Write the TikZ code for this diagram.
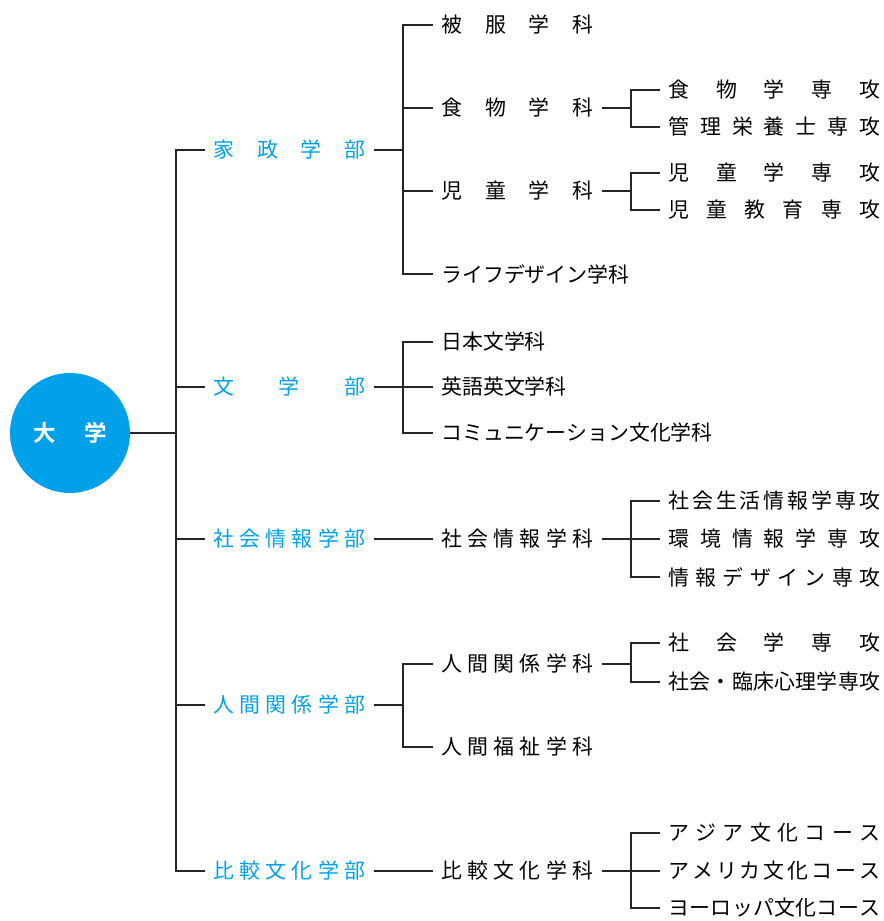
\documentclass[tikz,border=0pt]{standalone}
\usepackage{fontspec}
\setmainfont{Noto Sans CJK JP}[BoldFont={Noto Sans CJK JP Bold}]
\usepackage{xcolor}
\usepackage{tikz}
\usetikzlibrary{positioning,calc}
\definecolor{univblue}{RGB}{0,161,233}
\newcommand{\spread}[2]{\makebox[#1][s]{\spaceskip=0pt plus 1fil\relax #2}}

\begin{document}
\begin{tikzpicture}[x=0.02cm, y=-0.02cm,
    every node/.style={inner xsep=0.16cm, inner ysep=0pt, font=\fontsize{11.9}{14}\selectfont},
    univ/.style={circle, fill=univblue, minimum size=2.4cm, inner sep=0pt, text=white, font=\fontsize{12.8}{14}\selectfont\bfseries},
    fac/.style={anchor=west, text=univblue},
    dept/.style={anchor=west},
    major/.style={anchor=west},
    conn/.style={line width=0.6pt, black!85}]
    \useasboundingbox (0,0) rectangle (884,921);

    % University
    \node[univ] (univ) at (70,433) {\spread{1.48cm}{大 学}};

    % Faculties
    \node[fac] (kasei)   at (205,150) {\spread{3.04cm}{家 政 学 部}};
    \node[fac] (bungaku) at (205,387) {\spread{3.04cm}{文 学 部}};
    \node[fac] (shakai)  at (205,539) {\spread{3.04cm}{社 会 情 報 学 部}};
    \node[fac] (ningen)  at (205,705) {\spread{3.04cm}{人 間 関 係 学 部}};
    \node[fac] (hikaku)  at (205,871) {\spread{3.04cm}{比 較 文 化 学 部}};

    % Departments
    \node[dept] (hifuku)     at (433,25)  {\spread{3.04cm}{被 服 学 科}};
    \node[dept] (shokumotsu) at (433,108) {\spread{3.04cm}{食 物 学 科}};
    \node[dept] (jido)       at (433,191) {\spread{3.04cm}{児 童 学 科}};
    \node[dept] (life)       at (433,274) {ライフデザイン学科};
    \node[dept] (nihonbun)   at (433,342) {日本文学科};
    \node[dept] (eigo)       at (433,387) {英語英文学科};
    \node[dept] (comm)       at (433,433) {コミュニケーション文化学科};
    \node[dept] (shakaiD)    at (433,539) {\spread{3.04cm}{社 会 情 報 学 科}};
    \node[dept] (kankei)     at (433,664) {\spread{3.04cm}{人 間 関 係 学 科}};
    \node[dept] (fukushi)    at (433,747) {\spread{3.04cm}{人 間 福 祉 学 科}};
    \node[dept] (hikakuD)    at (433,871) {\spread{3.04cm}{比 較 文 化 学 科}};

    % Majors and courses
    \node[major] (shokuM)     at (660,90)  {\spread{4.24cm}{食 物 学 専 攻}};
    \node[major] (kanri)      at (660,127) {\spread{4.24cm}{管 理 栄 養 士 専 攻}};
    \node[major] (jidoM)      at (660,173) {\spread{4.24cm}{児 童 学 専 攻}};
    \node[major] (kyoiku)     at (660,210) {\spread{4.24cm}{児 童 教 育 専 攻}};
    \node[major] (seikatsu)   at (660,501) {\spread{4.24cm}{社 会 生 活 情 報 学 専 攻}};
    \node[major] (kankyo)     at (660,539) {\spread{4.24cm}{環 境 情 報 学 専 攻}};
    \node[major] (design)     at (660,577) {\spread{4.24cm}{情 報 デ ザ イ ン 専 攻}};
    \node[major] (shakaigaku) at (660,643) {\spread{4.24cm}{社 会 学 専 攻}};
    \node[major] (rinsho)     at (660,682) {\spread{4.24cm}{社 会 ・ 臨 床 心 理 学 専 攻}};
    \node[major] (asia)       at (660,833) {\spread{4.24cm}{ア ジ ア 文 化 コ ー ス}};
    \node[major] (america)    at (660,871) {\spread{4.24cm}{ア メ リ カ 文 化 コ ー ス}};
    \node[major] (europe)     at (660,908) {\spread{4.24cm}{ヨ ー ロ ッ パ 文 化 コ ー ス}};

    % Branch points
    \coordinate (trunk)    at (176,433);
    \coordinate (kaseiB)   at (403,150);
    \coordinate (bungakuB) at (403,387);
    \coordinate (ningenB)  at (403,705);
    \coordinate (shokuB)   at (631,108);
    \coordinate (jidoB)    at (631,191);
    \coordinate (shakaiB)  at (631,539);
    \coordinate (kankeiB)  at (631,664);
    \coordinate (hikakuB)  at (631,871);

    % Connectors
    \draw[conn] (univ) -- (trunk);
    \foreach \f in {kasei,bungaku,shakai,ningen,hikaku}
        \draw[conn] (trunk) |- (\f.west);

    \draw[conn] (kasei.east) -- (kaseiB);
    \foreach \d in {hifuku,shokumotsu,jido,life}
        \draw[conn] (kaseiB) |- (\d.west);
    \draw[conn] (bungaku.east) -- (bungakuB);
    \foreach \d in {nihonbun,eigo,comm}
        \draw[conn] (bungakuB) |- (\d.west);
    \draw[conn] (shakai) -- (shakaiD);
    \draw[conn] (ningen.east) -- (ningenB);
    \foreach \d in {kankei,fukushi}
        \draw[conn] (ningenB) |- (\d.west);
    \draw[conn] (hikaku) -- (hikakuD);

    \draw[conn] (shokumotsu.east) -- (shokuB);
    \foreach \m in {shokuM,kanri}
        \draw[conn] (shokuB) |- (\m.west);
    \draw[conn] (jido.east) -- (jidoB);
    \foreach \m in {jidoM,kyoiku}
        \draw[conn] (jidoB) |- (\m.west);
    \draw[conn] (shakaiD.east) -- (shakaiB);
    \foreach \m in {seikatsu,kankyo,design}
        \draw[conn] (shakaiB) |- (\m.west);
    \draw[conn] (kankei.east) -- (kankeiB);
    \foreach \m in {shakaigaku,rinsho}
        \draw[conn] (kankeiB) |- (\m.west);
    \draw[conn] (hikakuD.east) -- (hikakuB);
    \foreach \m in {asia,america,europe}
        \draw[conn] (hikakuB) |- (\m.west);
\end{tikzpicture}
\end{document}
